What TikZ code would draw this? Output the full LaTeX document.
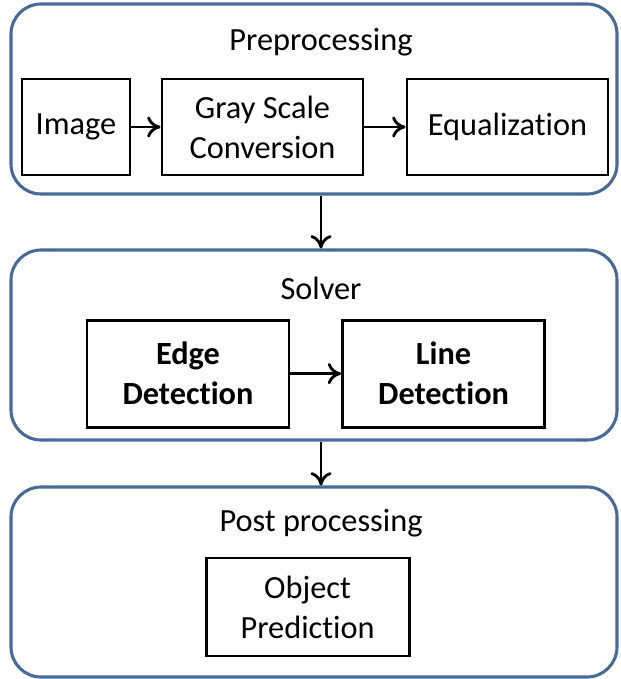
\documentclass[tikz,border=0pt]{standalone}
\usepackage{fontspec}
\setmainfont{Carlito}[Ligatures=NoCommon]
\usepackage{tikz}
\usetikzlibrary{arrows.meta}

\definecolor{stageblue}{RGB}{72,106,150}

\tikzset{
  stagebox/.style={draw=stageblue, line width=2.2pt, rounded corners=0.75cm,
    minimum width=15.15cm, minimum height=4.75cm},
  taskbox/.style={draw=black, line width=2.1pt, align=center,
    minimum height=2.4cm, inner sep=0pt},
  flow/.style={-{To[length=9.5pt,width=15pt,line width=2pt]}, line width=2pt}
}

\begin{document}
\begin{tikzpicture}[font=\fontsize{23}{28.5}\selectfont]

 \useasboundingbox (0,0) rectangle (15.5,-16.975);

 % First stage: preprocessing
 \node (pre) [stagebox] at (7.85,-2.475) {};
 \node (pretitle) at (8.025,-1.05) {Preprocessing};
 \node (image) [taskbox, minimum width=2.7cm] at (1.9,-3.175) {Image};
 \node (gray) [taskbox, minimum width=5.025cm] at (6.5625,-3.175) {Gray Scale\\Conversion};
 \node (equal) [taskbox, minimum width=5.025cm] at (12.6875,-3.175) {Equalization};
 \draw [flow] (image) -- (gray);
 \draw [flow] (gray) -- (equal);

 % Second stage: solver
 \node (solver) [stagebox] at (7.85,-8.625) {};
 \node (solvertitle) at (8.025,-7.2) {Solver};
 \node (edge) [taskbox, minimum width=5.05cm, minimum height=2.675cm, font=\fontsize{23}{28.5}\selectfont\bfseries] at (4.7,-9.34) {Edge\\Detection};
 \node (line) [taskbox, minimum width=5.05cm, minimum height=2.675cm, font=\fontsize{23}{28.5}\selectfont\bfseries] at (11.09,-9.34) {Line\\Detection};
 \draw [flow] (edge) -- (line);

 % Third stage: post processing
 \node (post) [stagebox] at (7.85,-14.55) {};
 \node (posttitle) at (8.025,-13.075) {Post processing};
 \node (object) [taskbox, minimum width=5.075cm, minimum height=2.45cm] at (7.69,-15.175) {Object\\Prediction};

 % Links between the stages
 \draw [flow] ([xshift=0.175cm]pre.south) -- ([xshift=0.175cm]solver.north);
 \draw [flow] ([xshift=0.175cm]solver.south) -- ([xshift=0.175cm]post.north);

\end{tikzpicture}
\end{document}
